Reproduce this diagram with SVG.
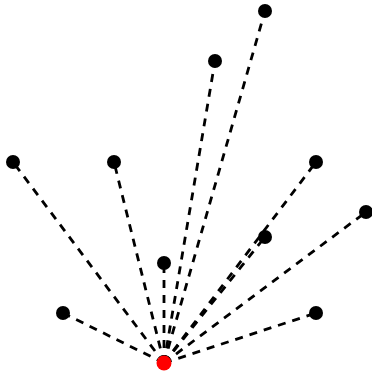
<svg xmlns="http://www.w3.org/2000/svg" width="372" height="373" viewBox="0 0 372 373">
<style>
.e{stroke:#000;stroke-width:2.8;stroke-dasharray:8,7;fill:none}
.n{fill:#000}
.r{fill:#ff0000}
</style>
<rect width="372" height="373" fill="#fff"/>
<g id="connectors">
<line class="e" x1="164" y1="363" x2="265" y2="11"/>
<line class="e" x1="164" y1="363" x2="215" y2="61"/>
<line class="e" x1="164" y1="363" x2="13" y2="162"/>
<line class="e" x1="164" y1="363" x2="114" y2="162"/>
<line class="e" x1="164" y1="363" x2="316" y2="162"/>
<line class="e" x1="164" y1="363" x2="366" y2="212"/>
<line class="e" x1="164" y1="363" x2="265" y2="237"/>
<line class="e" x1="164" y1="363" x2="164" y2="263"/>
<line class="e" x1="164" y1="363" x2="63" y2="313"/>
<line class="e" x1="164" y1="363" x2="316" y2="313"/>
</g>
<g id="n1"><circle class="n" cx="265" cy="11" r="7"/></g>
<g id="n2"><circle class="n" cx="215" cy="61" r="7"/></g>
<g id="n3"><circle class="n" cx="13" cy="162" r="7"/></g>
<g id="n4"><circle class="n" cx="114" cy="162" r="7"/></g>
<g id="n5"><circle class="n" cx="316" cy="162" r="7"/></g>
<g id="n6"><circle class="n" cx="366" cy="212" r="7"/></g>
<g id="n7"><circle class="n" cx="265" cy="237" r="7"/></g>
<g id="n8"><circle class="n" cx="164" cy="263" r="7"/></g>
<g id="n9"><circle class="n" cx="63" cy="313" r="7"/></g>
<g id="n10"><circle class="n" cx="316" cy="313" r="7"/></g>
<g id="root"><circle class="r" cx="164" cy="363" r="7.5"/></g>
</svg>
